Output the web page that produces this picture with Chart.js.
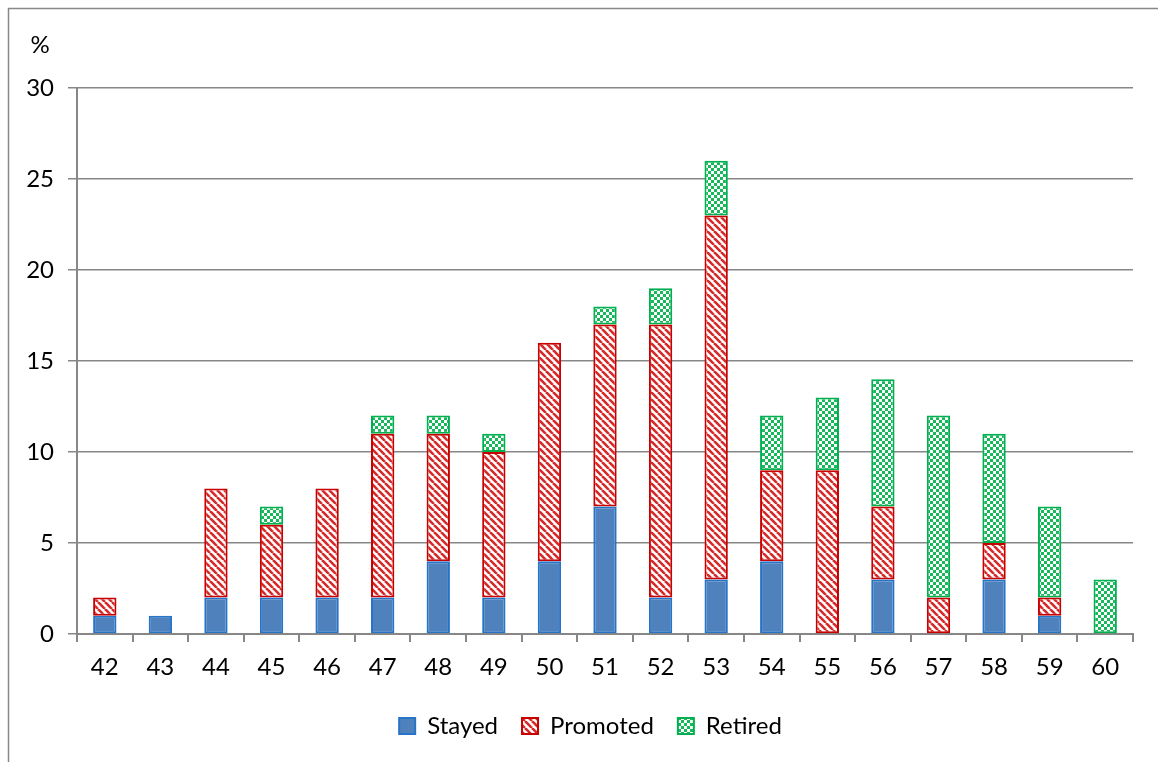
<!DOCTYPE html>
<html>
<head>
<meta charset="utf-8">
<script src="https://cdn.jsdelivr.net/npm/chart.js@4"></script>
<style>
  html, body { margin: 0; padding: 0; background: #fff; }
  #wrap { width: 1158px; height: 762px; position: relative; }
</style>
</head>
<body>
<div id="wrap"><canvas id="chart"></canvas></div>
<script>
const ages = ['42', '43', '44', '45', '46', '47', '48', '49', '50', '51', '52', '53', '54', '55', '56', '57', '58', '59', '60'];
const stayed = [1, 1, 2, 2, 2, 2, 4, 2, 4, 7, 2, 3, 4, null, 3, null, 3, 1, null];
const promoted = [1, null, 6, 4, 6, 9, 7, 8, 12, 10, 15, 20, 5, 9, 4, 2, 2, 1, null];
const retired = [null, null, null, 1, null, 1, 1, 1, null, 1, 2, 3, 3, 4, 7, 10, 6, 5, 3];
const yTicks = [0, 5, 10, 15, 20, 25, 30];

const FONT = 'Lato, "Liberation Sans", sans-serif';
const FONT_SIZE = 24;
const GREY = '#878787';

// diagonal red hatch
function stripePattern() {
    const n = 7;
    const c = document.createElement('canvas');
    c.width = n; c.height = n;
    const g = c.getContext('2d');
    g.fillStyle = '#fff';
    g.fillRect(0, 0, n, n);
    g.strokeStyle = '#d42a2a';
    g.lineWidth = 2.6;
    [-n, 0, n].forEach(k => {
        g.beginPath();
        g.moveTo(k, 0);
        g.lineTo(k + n, n);
        g.stroke();
    });
    return g.createPattern(c, 'repeat');
}

// small green/white checkerboard
function checkerPattern() {
    const s = 3;
    const c = document.createElement('canvas');
    c.width = s * 2; c.height = s * 2;
    const g = c.getContext('2d');
    g.fillStyle = '#16b85a';
    g.fillRect(0, 0, s * 2, s * 2);
    g.fillStyle = '#fff';
    g.fillRect(0, 0, s, s);
    g.fillRect(s, s, s, s);
    return g.createPattern(c, 'repeat');
}

// outer frame and the "%" unit label
const decorations = {
    id: 'decorations',
    afterLayout(chart) {
        // nudge the legend a little to the right of the layout centre
        if (chart.legend) {
            chart.legend.left += 24;
            chart.legend.right += 24;
        }
    },
    afterDraw(chart) {
        const ctx = chart.ctx;
        ctx.save();
        ctx.strokeStyle = GREY;
        ctx.lineWidth = 1.5;
        ctx.beginPath();
        ctx.moveTo(8.5, chart.height);
        ctx.lineTo(8.5, 8.5);
        ctx.lineTo(chart.width, 8.5);
        ctx.stroke();
        ctx.fillStyle = '#000';
        ctx.font = FONT_SIZE + 'px ' + FONT;
        ctx.textAlign = 'center';
        ctx.textBaseline = 'middle';
        ctx.fillText('%', 40, 45);
        ctx.restore();
    }
};

const barStyle = {
    borderWidth: 2,
    borderSkipped: false,
    categoryPercentage: 1,
    barPercentage: 0.42
};

new Chart(document.getElementById('chart'), {
    type: 'bar',
    data: {
        labels: ages,
        datasets: [
            Object.assign({ label: 'Stayed', data: stayed, backgroundColor: '#4f81bd', borderColor: '#2674c8' }, barStyle),
            Object.assign({ label: 'Promoted', data: promoted, backgroundColor: stripePattern(), borderColor: '#c80000' }, barStyle),
            Object.assign({ label: 'Retired', data: retired, backgroundColor: checkerPattern(), borderColor: '#00b050' }, barStyle)
        ]
    },
    options: {
        responsive: true,
        maintainAspectRatio: false,
        animation: false,
        devicePixelRatio: 1,
        layout: {
            padding: { top: 88, right: 25, bottom: 14, left: 0 }
        },
        scales: {
            x: {
                stacked: true,
                afterFit(scale) { scale.height = 56; },
                grid: {
                    display: true,
                    drawOnChartArea: false,
                    drawTicks: true,
                    tickLength: 8,
                    color: GREY,
                    lineWidth: 2,
                    offset: true
                },
                border: { color: GREY, width: 2 },
                ticks: {
                    color: '#000',
                    padding: 11,
                    font: { size: FONT_SIZE, family: FONT }
                }
            },
            y: {
                stacked: true,
                min: 0,
                max: 30,
                afterFit(scale) { scale.width = 77; },
                afterBuildTicks(scale) { scale.ticks = yTicks.map(v => ({ value: v })); },
                grid: {
                    color: GREY,
                    lineWidth: 1.5,
                    tickLength: 9
                },
                border: { color: GREY, width: 2 },
                ticks: {
                    color: '#000',
                    padding: 14,
                    font: { size: FONT_SIZE, family: FONT }
                }
            }
        },
        plugins: {
            legend: {
                position: 'bottom',
                labels: {
                    color: '#000',
                    boxWidth: 16,
                    boxHeight: 16,
                    padding: 24,
                    font: { size: FONT_SIZE, family: FONT }
                }
            },
            tooltip: { enabled: false }
        }
    },
    plugins: [decorations]
});
</script>
</body>
</html>
